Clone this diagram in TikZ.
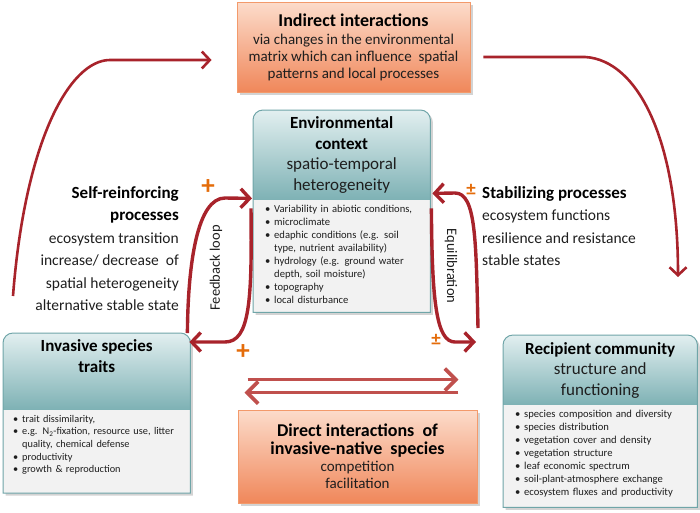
\documentclass[tikz,border=0pt]{standalone}
\usepackage{fontspec}
\setmainfont{Carlito}
\usetikzlibrary{positioning,calc,arrows.meta,shadows,backgrounds}

\definecolor{arrowred}{HTML}{A8232B}
\definecolor{pairred}{HTML}{C0504D}
\definecolor{signorange}{HTML}{E46C0A}
\definecolor{orangetop}{HTML}{FCDCCB}
\definecolor{orangebot}{HTML}{F0875A}
\definecolor{orangeline}{HTML}{F39A6B}
\definecolor{tealtop}{HTML}{E2EFF0}
\definecolor{tealbot}{HTML}{7DB1B4}
\definecolor{tealline}{HTML}{6FA5A8}
\definecolor{bodygrey}{HTML}{F2F2F2}
\definecolor{textgrey}{HTML}{1E1E1E}

\newcommand{\boxtitle}{\fontsize{18}{22}\selectfont\bfseries}
\newcommand{\boxsub}{\fontsize{15}{17}\selectfont}
\newcommand{\headtitle}{\fontsize{17}{20.5}\selectfont\bfseries}
\newcommand{\headsub}{\fontsize{17}{20.5}\selectfont}
\newcommand{\listfont}{\fontsize{10.6}{12.9}\selectfont}
\newcommand{\sidefont}{\fontsize{15.5}{22.5}\selectfont}
\newcommand{\listbul}{\makebox[9pt][l]{\textbullet}}
\newcommand{\contline}{\mbox{}\hspace*{9pt}}

% frame of a teal box: header node, list node, height of list part
\newcommand{\tealframe}[3]{%
  \path[fill=white, drop shadow={shadow xshift=2.5pt, shadow yshift=-2.5pt, opacity=0.35}]
    ($(#2.north west)+(0,#3)$) [rounded corners=10pt] -- (#1.north west) -- (#1.north east)
    [sharp corners] -- ($(#2.north east)+(0,#3)$) -- cycle;
  \path[top color=tealtop, bottom color=tealbot]
    (#2.north west) [rounded corners=10pt] -- (#1.north west) -- (#1.north east)
    [sharp corners] -- (#2.north east) -- cycle;
  \path[fill=bodygrey] (#2.north west) rectangle ($(#2.north east)+(0,#3)$);
  \path[draw=tealline, line width=1pt]
    ($(#2.north west)+(0,#3)$) [rounded corners=10pt] -- (#1.north west) -- (#1.north east)
    [sharp corners] -- ($(#2.north east)+(0,#3)$) -- cycle;
}

\tikzset{
  orangebox/.style={draw=orangeline, line width=0.8pt, top color=orangetop, bottom color=orangebot,
    align=center, font=\boxsub, text=textgrey,
    drop shadow={shadow xshift=2.5pt, shadow yshift=-2.5pt, opacity=0.35}},
  tealhead/.style={align=center, font=\headsub, text=textgrey, inner sep=0pt},
  listbox/.style={align=left, inner xsep=12pt, inner ysep=5pt, font=\listfont, text=textgrey},
  sidetext/.style={font=\sidefont, text=textgrey, inner sep=0pt},
  plussign/.style={text=signorange, font=\fontsize{27}{27}\selectfont\bfseries, inner sep=0pt},
  pmsign/.style={text=signorange, font=\fontsize{19}{19}\selectfont\bfseries, inner sep=0pt},
  looplabel/.style={font=\fontsize{14.5}{16}\selectfont, text=textgrey, inner sep=0pt},
  bigarc/.style={draw=arrowred, line width=2.6pt, -{Straight Barb[length=8pt,width=17pt]}},
  looparrow/.style={draw=arrowred, line width=3.4pt, -{Straight Barb[length=9pt,width=19pt]}},
  pairarrow/.style={draw=pairred, line width=3.6pt, -{Straight Barb[length=11pt,width=22pt]}}
}

\begin{document}
\begin{tikzpicture}[x=1pt,y=-1pt]
\useasboundingbox (0,0) rectangle (700,512);

% orange boxes
\node[orangebox, minimum width=233, minimum height=90] (indirect) at (353.5,47)
  {{\boxtitle\color{black} Indirect interactions}\\[1pt] via changes in the environmental\\ matrix which can influence\ \ spatial\\ patterns and local processes};
\node[orangebox, minimum width=239, minimum height=93] (direct) at (357.5,456.5)
  {{\boxtitle\color{black} Direct interactions\ \ of}\\[1pt] {\boxtitle\color{black} invasive-native\ \ species}\\ competition\\ facilitation};

% teal boxes
\node[tealhead, minimum width=177, minimum height=90, anchor=north west] (envhead) at (253,110)
  {{\headtitle\color{black} Environmental}\\ {\headtitle\color{black} context}\\ spatio-temporal\\ heterogeneity};
\node[listbox, text width=153, anchor=north west] (envbody) at (envhead.south west)
  {\listbul Variability in abiotic conditions,\\ \listbul microclimate\\ \listbul edaphic conditions (e.g. soil\\ \contline type, nutrient availability)\\ \listbul hydrology (e.g. ground water\\ \contline depth, soil moisture)\\ \listbul topography\\ \listbul local disturbance};

\node[tealhead, minimum width=187, minimum height=46, anchor=north west] (invhead) at (3,333)
  {{\headtitle\color{black} Invasive species}\\ {\headtitle\color{black} traits}};
\node[listbox, inner xsep=10pt, text width=167, font=\fontsize{10.3}{12.6}\selectfont, anchor=north west] (invbody) at ($(invhead.north west)+(0,77)$)
  {\listbul trait dissimilarity,\\ \listbul e.g. N\textsubscript{2}-fixation, resource use, litter\\ \contline quality, chemical defense\\ \listbul productivity\\ \listbul growth \& reproduction};

\node[tealhead, minimum width=194, minimum height=70, anchor=north west] (rechead) at (503,335)
  {{\headtitle\color{black} Recipient community}\\ structure and\\ functioning};
\node[listbox, text width=170, anchor=north west] (recbody) at (rechead.south west)
  {\listbul species composition and diversity\\ \listbul species distribution\\ \listbul vegetation cover and density\\ \listbul vegetation structure\\ \listbul leaf economic spectrum\\ \listbul soil-plant-atmosphere exchange\\ \listbul ecosystem fluxes and productivity};

\begin{scope}[on background layer]
  \tealframe{envhead}{envbody}{112}
  \tealframe{invhead}{invbody}{83}
  \tealframe{rechead}{recbody}{102}
\end{scope}

% side texts
\node[sidetext, align=right, anchor=north east] (selfproc) at (179,186)
  {{\bfseries\fontsize{17}{21}\selectfont\color{black} Self-reinforcing}\\ {\bfseries\fontsize{17}{21}\selectfont\color{black} processes}\\ ecosystem transition\\ increase/ decrease\ \ of\\ spatial heterogeneity\\ alternative stable state};
\node[sidetext, align=left, anchor=north west] (stabproc) at (482,186)
  {{\bfseries\fontsize{17}{21}\selectfont\color{black} Stabilizing processes}\\ ecosystem functions\\ resilience and resistance\\ stable states};

% signs
\node[plussign] (plusfb) at (208,187) {+};
\node[plussign] (plusdir) at (243,352) {+};
\node[pmsign] (pmstab) at (471,190) {±};
\node[pmsign] (pmeq) at (436,340) {±};

\node[looplabel, rotate=90] (fbtext) at (216,268) {Feedback loop};
\node[looplabel, rotate=-90] (eqtext) at (451,266) {Equilibration};

% free ends
\coordinate (selfstart) at (13,296);
\coordinate (stabend) at (678,277);
\coordinate (eqstart) at (478,328);

% connectors
\draw[bigarc] (selfstart) .. controls (25,140) and (70,60) .. (110,60) -- ($(indirect.west)+(-25,13)$);
\draw[bigarc] ($(indirect.east)+(13,10)$) -- (585,57) .. controls (638,60) and (678,140) .. (stabend);

\draw[looparrow] ($(invhead.north east)+(-3,0)$) .. controls (188,260) and (198,198) .. (225,198) -- ($(envhead.south west)+(-1,-2)$);
\draw[looparrow] ($(envbody.north west)+(-2,8)$) .. controls (252,300) and (250,342) .. (225,342) -- ($(invhead.north east)+(-1,9)$);

\draw[looparrow] (eqstart) .. controls (476,240) and (476,193) .. (455,193) -- ($(envhead.south east)+(2,-7)$);
\draw[looparrow] ($(envbody.north east)+(1,8)$) .. controls (432,300) and (436,342) .. (455,342) -- ($(rechead.north west)+(-27,7)$);

\draw[pairarrow] ($(direct.north west)+(10,-30)$) -- ($(direct.north east)+(-19,-30)$);
\draw[pairarrow] ($(direct.north east)+(-19,-17)$) -- ($(direct.north west)+(7,-17)$);
\end{tikzpicture}
\end{document}
